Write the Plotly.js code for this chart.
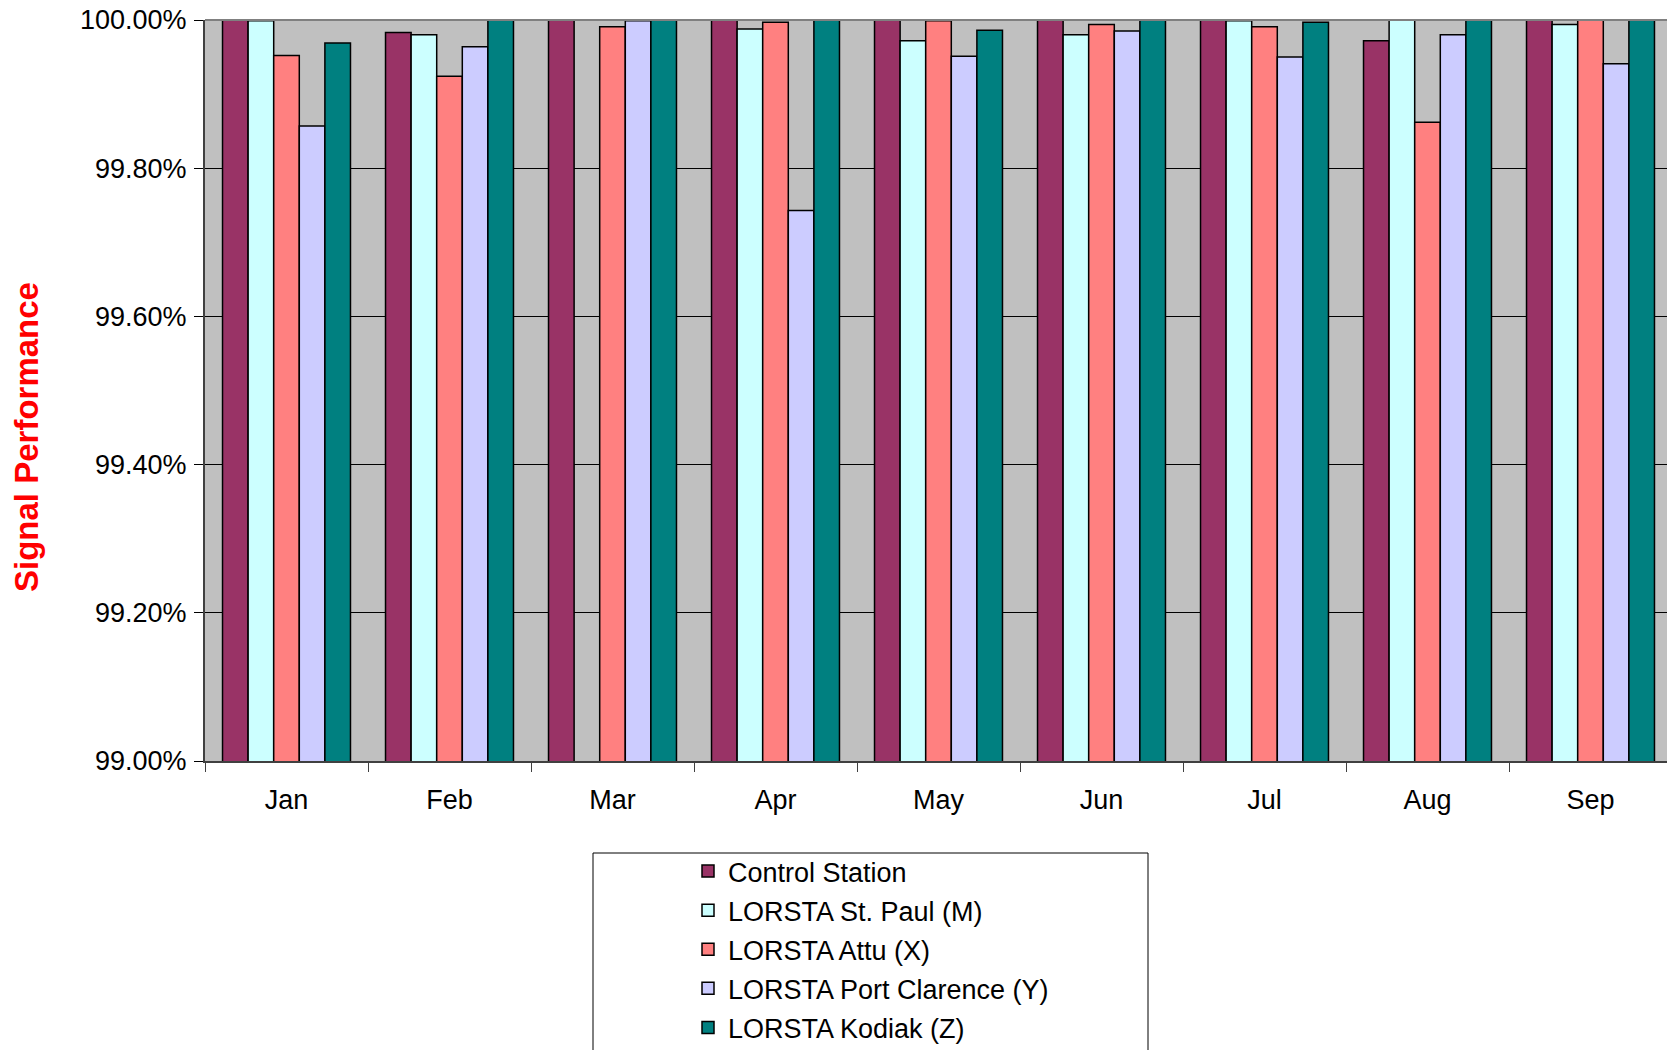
<!DOCTYPE html>
<html>
<head>
<meta charset="utf-8">
<script src="https://cdn.plot.ly/plotly-3.0.1.min.js"></script>
<style>html,body{margin:0;padding:0;background:#fff;}#chart{width:1667px;height:1050px;}</style>
</head>
<body>
<div id="chart"></div>
<script>
var months = ["Jan","Feb","Mar","Apr","May","Jun","Jul","Aug","Sep"];
var seriesNames = ["Control Station","LORSTA St. Paul (M)","LORSTA Attu (X)","LORSTA Port Clarence (Y)","LORSTA Kodiak (Z)"];
var controlStation = [100.000, 99.983, 100.000, 100.000, 100.000, 100.000, 100.000, 99.972, 100.000];
var stPaul        = [99.999, 99.980, null,    99.988, 99.972, 99.980, 99.999, 100.000, 99.994];
var attu          = [99.952, 99.924, 99.991, 99.997, 99.999, 99.994, 99.991, 99.862, 100.000];
var portClarence  = [99.857, 99.964, 99.999, 99.743, 99.951, 99.985, 99.950, 99.980, 99.941];
var kodiak        = [99.969, 100.000, 100.000, 100.000, 99.986, 100.000, 99.997, 100.000, 100.000];
var yTickVals = [99.0, 99.2, 99.4, 99.6, 99.8, 100.0];
var yTickText = ["99.00%","99.20%","99.40%","99.60%","99.80%","100.00%"];
var yTitle = "Signal Performance";

var allSeries = [controlStation, stPaul, attu, portClarence, kodiak];
var colors = ["#993366","#CCFFFF","#FF8080","#CCCCFF","#008080"];

var traces = allSeries.map(function(vals, i){
  return {
    type: "bar",
    name: seriesNames[i],
    x: months,
    y: vals,
    legendgroup: "g" + i,
    marker: {color: colors[i], line: {color: "#000000", width: 1.5}},
    hoverinfo: "x+y+name"
  };
});

var plotL = 205, plotR = 1667, plotT = 20, plotB = 761;
var pw = plotR - plotL, ph = plotB - plotT;
function px2x(p){ return (p - plotL) / pw; }
function px2y(p){ return (plotB - p) / ph; }
var FONT = "Arial, Liberation Sans, sans-serif";

var layout = {
  width: 1667, height: 1050,
  margin: {l: plotL, r: 1667 - plotR, t: plotT, b: 1050 - plotB, pad: 0, autoexpand: false},
  paper_bgcolor: "#ffffff",
  plot_bgcolor: "#C0C0C0",
  font: {family: FONT, color: "#000000", size: 27},
  barmode: "group",
  bargap: 0.215,
  bargroupgap: 0,
  showlegend: true,
  xaxis: {
    type: "category",
    range: [-0.5, 8.5 - 5/163],
    showgrid: false,
    showline: true, linecolor: "#404040", linewidth: 1.5,
    ticks: "outside", tickson: "boundaries", ticklen: 9, tickcolor: "#404040", tickwidth: 1,
    tickfont: {size: 27, family: FONT},
    ticklabelstandoff: 14,
    zeroline: false,
    fixedrange: true
  },
  yaxis: {
    range: [99, 100],
    tickvals: yTickVals,
    ticktext: yTickText,
    showgrid: true, gridcolor: "#000000", gridwidth: 1,
    showline: true, linecolor: "#404040", linewidth: 2,
    ticks: "outside", ticklen: 9, tickcolor: "#000000", tickwidth: 1,
    tickfont: {size: 27, family: FONT},
    ticklabelstandoff: 2,
    zeroline: false,
    fixedrange: true
  },
  legend: {
    x: px2x(688), y: px2y(847), xanchor: "left", yanchor: "top",
    bgcolor: "rgba(0,0,0,0)", borderwidth: 0,
    font: {size: 27, family: FONT},
    traceorder: "grouped", tracegroupgap: 1,
    itemwidth: 30
  },
  shapes: [
    {type: "rect", xref: "paper", yref: "paper",
     x0: px2x(593), x1: px2x(1148), y0: px2y(1070), y1: px2y(853),
     line: {color: "#000000", width: 1}, fillcolor: "#ffffff", layer: "below"},
    {type: "line", xref: "paper", yref: "paper",
     x0: 0, x1: 1, y0: 1, y1: 1, line: {color: "#808080", width: 2}}
  ],
  annotations: [
    {text: "<b>" + yTitle + "</b>", xref: "paper", yref: "paper",
     x: px2x(26), y: px2y(437), xanchor: "center", yanchor: "middle",
     textangle: -90, showarrow: false,
     font: {size: 33, color: "#FF0000", family: FONT}}
  ]
};

Plotly.newPlot("chart", traces, layout, {displayModeBar: false, staticPlot: true});
</script>
</body>
</html>
